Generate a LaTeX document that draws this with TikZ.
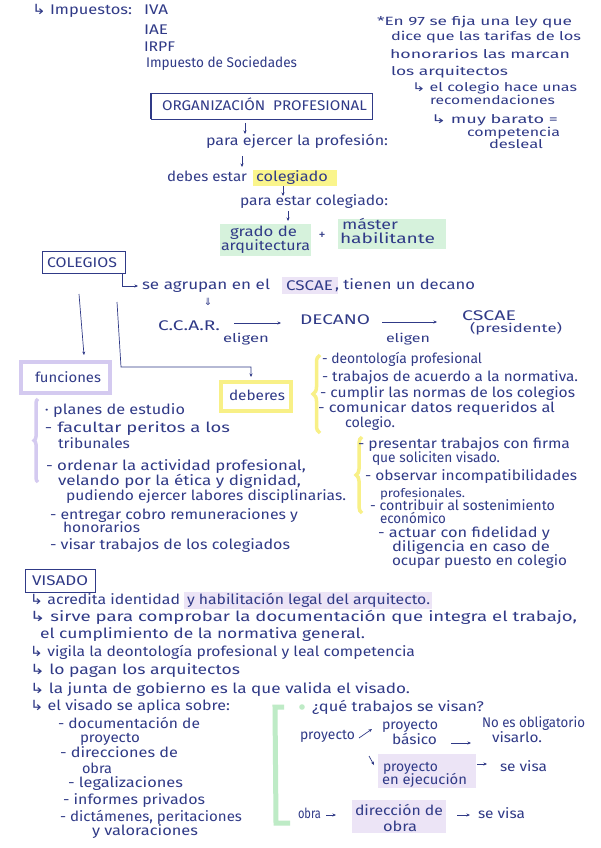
\documentclass[tikz,border=0pt]{standalone}
\usepackage{fontspec}
\setmainfont{Fira Sans}
\newfontfamily\symf{DejaVu Sans}
\usepackage{graphicx}
\usetikzlibrary{arrows.meta,decorations.pathreplacing}
\definecolor{ink}{RGB}{48,58,135}
\definecolor{hlyellow}{RGB}{250,245,140}
\definecolor{hlgreen}{RGB}{214,242,220}
\definecolor{hlpurple}{RGB}{236,228,246}
\definecolor{lavbox}{RGB}{212,202,240}
\definecolor{yelbox}{RGB}{248,240,135}
\definecolor{grbr}{RGB}{190,235,198}
\tikzset{
  hw/.style={anchor=base west, inner sep=0pt, outer sep=0pt, text=ink, font=\fontsize{14}{16}\selectfont},
  sm/.style={font=\fontsize{12}{14}\selectfont},
  arr/.style={draw=ink, line width=0.7pt, -{Stealth[length=3.5pt,width=3pt]}},
  inkline/.style={draw=ink, line width=0.8pt},
}
\newcommand\hw[5][]{\node[hw,#1] (#2) at (#3) {\resizebox{#4pt}{\height}{#5}};}
\begin{document}
\begin{tikzpicture}[x=1pt,y=-1pt]
\useasboundingbox (0,0) rectangle (600,848);
\fill[white] (0,0) rectangle (600,848);

% ---------- top left: impuestos
\hw{imp}{32,15}{100}{{\symf ↳} Impuestos:}
\hw{iva}{144,15}{24}{IVA}
\hw{iae}{144,35}{24}{IAE}
\hw{irpf}{144,52}{31}{IRPF}
\hw{isoc}{146,68}{151}{Impuesto de Sociedades}

% ---------- right note
\hw[sm]{n1}{377,26}{195}{*En 97 se fija una ley que}
\hw[sm]{n2}{391,41}{190}{dice que las tarifas de los}
\hw[sm]{n3}{390,59}{180}{honorarios las marcan}
\hw[sm]{n4}{391,76}{117}{los arquitectos}
\hw[sm]{n5}{412,92}{165}{{\symf ↳} el colegio hace unas}
\hw[sm]{n6}{430,105}{125}{recomendaciones}
\hw[sm]{n7}{431,124}{127}{{\symf ↳} muy barato =}
\hw[sm]{n8}{467,136}{93}{competencia}
\hw[sm]{n9}{489,149}{54}{desleal}

% ---------- organizacion profesional
\draw[inkline] (151,93) rectangle (372,119);
\draw[ink, line width=1.4pt] (151,93) -- (151,119);
\hw{org}{162,111}{205}{ORGANIZACIÓN\ \ PROFESIONAL}
\coordinate (a1s) at (245,123); \coordinate (a1e) at (245,134);
\draw[arr] (a1s) -- (a1e);
\hw{pe}{206,146}{182}{para ejercer la profesión:}
\coordinate (a2s) at (242,156); \coordinate (a2e) at (242,167);
\draw[arr] (a2s) -- (a2e);
\fill[hlyellow] (253,170) rectangle (337,186);
\hw{de}{167,181}{80}{debes estar}
\hw{col}{256,181}{72}{colegiado}
\coordinate (a3s) at (283,186); \coordinate (a3e) at (283,196);
\draw[arr] (a3s) -- (a3e);
\hw{pec}{240,205}{148}{para estar colegiado:}
\coordinate (a4s) at (288,211); \coordinate (a4e) at (288,221);
\draw[arr] (a4s) -- (a4e);
\fill[hlgreen] (220,224) rectangle (311,256);
\fill[hlgreen] (338,219) rectangle (446,249);
\hw{gr1}{230,236}{67}{grado de}
\hw{gr2}{221,250}{89}{arquitectura}
\node[text=ink, font=\fontsize{14}{16}\selectfont, inner sep=0pt] (plus) at (322,236) {+};
\hw{ms1}{342,229}{56}{máster}
\hw{ms2}{340,243}{95}{habilitante}

% ---------- colegios
\draw[inkline] (42,251) rectangle (125,273);
\hw{cole}{47,267}{70}{COLEGIOS}
\coordinate (hk) at (138,286);
\draw[arr] (122,273) |- (hk);
\fill[hlpurple] (282,277) rectangle (338,294);
\hw{ag1}{142,289}{128}{se agrupan en el}
\hw{ag2}{286,290}{47}{CSCAE}
\hw{ag3}{335,289}{140}{, tienen un decano}
\node[text=ink, font=\symf\fontsize{10}{10}\selectfont, inner sep=0pt] (dbl) at (208,302) {⇓};
\hw{ccar}{158,330}{62}{C.C.A.R.}
\coordinate (e1s) at (234,323); \coordinate (e1e) at (281,323);
\draw[arr] (e1s) -- (e1e);
\hw[sm]{el1}{223,342}{46}{eligen}
\hw{dec}{300,324}{70}{DECANO}
\coordinate (e2s) at (382,322); \coordinate (e2e) at (437,322);
\draw[arr] (e2s) -- (e2e);
\hw[sm]{el2}{386,342}{44}{eligen}
\hw{cs}{462,320}{54}{CSCAE}
\hw[sm]{pres}{470,332}{92}{(presidente)}

% branch lines
\coordinate (b1s) at (79,294); \coordinate (b1e) at (84,355);
\draw[arr] (b1s) -- (b1e);
\coordinate (b2s) at (117,302); \coordinate (b2e) at (251,377);
\draw[arr] (b2s) -- (121,367) -| (b2e);

% funciones / deberes boxes
\draw[lavbox, line width=4pt] (21,362) rectangle (110,393);
\hw{fun}{35,382}{66}{funciones}
\draw[yelbox, line width=3.5pt] (221,382) rectangle (291,411);
\hw{deb}{229,400}{56}{deberes}

% deberes list
\draw[yelbox, line width=3.5pt, decorate, decoration={brace, amplitude=7pt}] (320,433) -- (320,355);
\hw{d1}{322,363}{160}{- deontología profesional}
\hw{d2}{322,381}{256}{- trabajos de acuerdo a la normativa.}
\hw{d3}{320,397}{255}{- cumplir las normas de los colegios}
\hw{d4}{318,412}{237}{- comunicar datos requeridos al}
\hw{d5}{345,427}{50}{colegio.}

% funciones list
\draw[lavbox, line width=3.5pt, decorate, decoration={brace, amplitude=4pt}] (38,482) -- (38,399);
\hw{f1}{45,414}{140}{· planes de estudio}
\hw{f2}{45,432}{185}{- facultar peritos a los}
\hw{f3}{58,448}{72}{tribunales}
\hw{f4}{46,470}{260}{- ordenar la actividad profesional,}
\hw{f5}{58,485}{243}{velando por la ética y dignidad,}
\hw{f6}{66,500}{280}{pudiendo ejercer labores disciplinarias.}
\hw{f7}{50,519}{248}{- entregar cobro remuneraciones y}
\hw{f8}{63,532}{77}{honorarios}
\hw{f9}{50,549}{240}{- visar trabajos de los colegiados}

% second deberes list
\draw[yelbox, line width=3.5pt, decorate, decoration={brace, amplitude=6pt}] (362,513) -- (362,437);
\hw{g1}{358,448}{212}{- presentar trabajos con firma}
\hw{g2}{372,462}{128}{que soliciten visado.}
\hw{g3}{365,480}{212}{- observar incompatibilidades}
\hw[sm]{g4}{380,497}{85}{profesionales.}
\hw{g5}{370,510}{185}{- contribuir al sostenimiento}
\hw{g6}{380,523}{66}{económico}
\hw{g7}{378,537}{172}{- actuar con fidelidad y}
\hw{g8}{392,551}{158}{diligencia en caso de}
\hw{g9}{392,565}{175}{ocupar puesto en colegio}

% ---------- visado
\draw[inkline] (25,569) rectangle (95,592);
\hw{vis}{32,585}{56}{VISADO}
\fill[hlpurple] (184,592) rectangle (432,609);
\hw{v1a}{30,604}{150}{{\symf ↳} acredita identidad}
\hw{v1b}{187,604}{243}{y habilitación legal del arquitecto.}
\hw{v2}{30,621}{547}{{\symf ↳} sirve para comprobar la documentación que integra el trabajo,}
\hw{v3}{40,638}{325}{el cumplimiento de la normativa general.}
\hw{v4}{30,656}{385}{{\symf ↳} vigila la deontología profesional y leal competencia}
\hw{v5}{30,674}{210}{{\symf ↳} lo pagan los arquitectos}
\hw{v6}{30,693}{380}{{\symf ↳} la junta de gobierno es la que valida el visado.}
\hw{v7}{30,710}{200}{{\symf ↳} el visado se aplica sobre:}
\hw{s1}{58,728}{142}{- documentación de}
\hw{s2}{80,742}{60}{proyecto}
\hw{s3}{60,757}{118}{- direcciones de}
\hw{s4}{82,773}{30}{obra}
\hw{s5}{68,787}{115}{- legalizaciones}
\hw{s6}{63,804}{142}{- informes privados}
\hw{s7}{60,821}{182}{- dictámenes, peritaciones}
\hw{s8}{92,835}{106}{y valoraciones}

% ---------- que trabajos se visan
\draw[grbr, line width=5pt] (284,707) -- (275,707) -- (276,823) -- (290,823);
\fill[grbr] (302,707) circle (2.8);
\hw{q}{312,711}{172}{¿qué trabajos se visan?}
\hw{p0}{300,739}{55}{proyecto}
\coordinate (u1s) at (359,738); \coordinate (u1e) at (372,729);
\draw[arr] (u1s) -- (u1e);
\hw{pb1}{382,729}{56}{proyecto}
\hw{pb2}{392,744}{45}{básico}
\coordinate (u2s) at (451,743); \coordinate (u2e) at (471,743);
\draw[arr] (u2s) -- (u2e);
\hw{no1}{482,727}{103}{No es obligatorio}
\hw{no2}{492,742}{50}{visarlo.}
\coordinate (u3s) at (369,756); \coordinate (u3e) at (374,765);
\draw[arr] (u3s) -- (u3e);
\fill[hlpurple] (378,754) rectangle (476,788);
\hw{pe1}{383,771}{55}{proyecto}
\hw{pe2}{382,784}{85}{en ejecución}
\coordinate (u4s) at (477,764); \coordinate (u4e) at (487,764);
\draw[arr] (u4s) -- (u4e);
\hw{sv1}{500,771}{47}{se visa}
\hw{ob}{298,818}{23}{obra}
\coordinate (u5s) at (326,815); \coordinate (u5e) at (336,815);
\draw[arr] (u5s) -- (u5e);
\fill[hlpurple] (352,800) rectangle (446,833);
\hw{dir1}{355,815}{88}{dirección de}
\hw{dir2}{383,831}{34}{obra}
\coordinate (u6s) at (457,815); \coordinate (u6e) at (470,815);
\draw[arr] (u6s) -- (u6e);
\hw{sv2}{478,818}{47}{se visa}
\end{tikzpicture}
\end{document}
